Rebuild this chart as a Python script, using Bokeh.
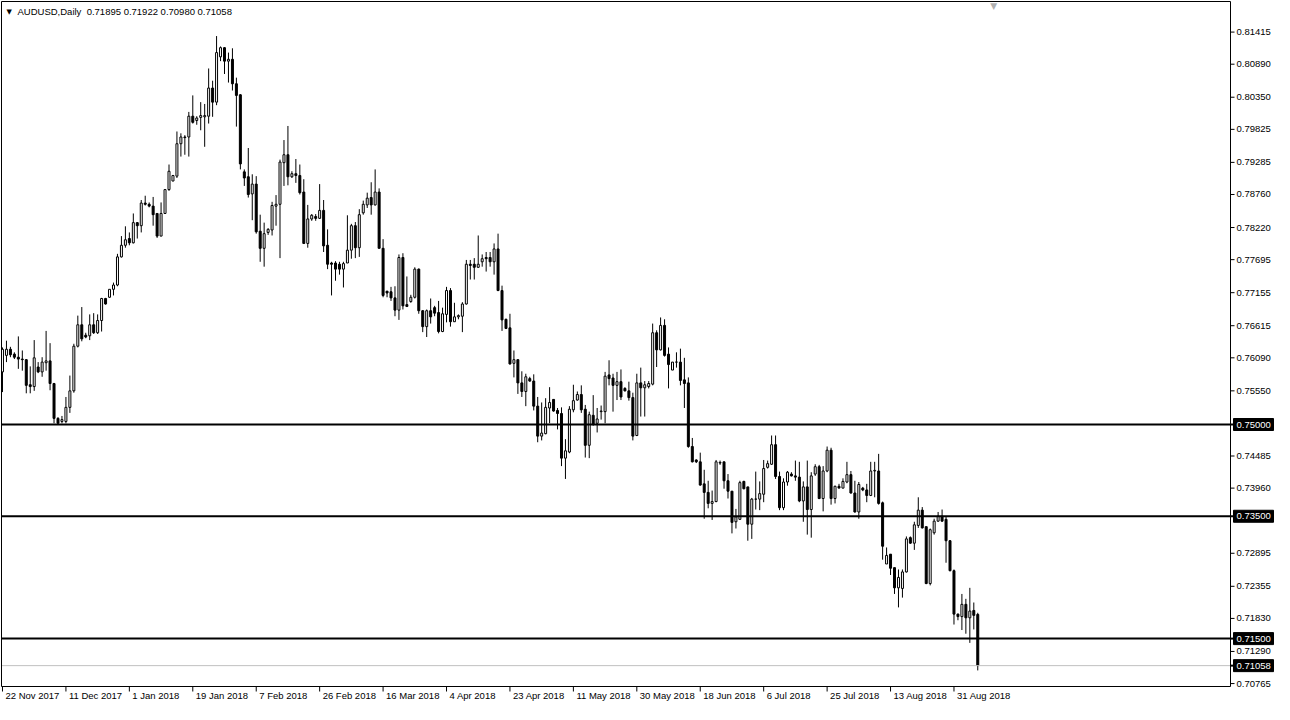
from bokeh.plotting import figure
from bokeh.models import Range1d, ColumnDataSource
from bokeh.core.properties import value
from bokeh.embed import file_html
from bokeh.resources import INLINE

# ---------------- data (AUDUSD daily, one bar per trading session) ----------------
opens = [0.7586, 0.7613, 0.7623, 0.7615, 0.7610, 0.7607, 0.7606, 0.7565, 0.7562, 0.7594,
         0.7586, 0.7601, 0.7604, 0.7567, 0.7510, 0.7505, 0.7505, 0.7528, 0.7555, 0.7628,
         0.7663, 0.7646, 0.7645, 0.7663, 0.7650, 0.7670, 0.7706, 0.7708, 0.7721, 0.7728,
         0.7774, 0.7793, 0.7804, 0.7797, 0.7830, 0.7825, 0.7862, 0.7860, 0.7857, 0.7845,
         0.7808, 0.7845, 0.7884, 0.7898, 0.7906, 0.7959, 0.7970, 0.7970, 0.8004, 0.7997,
         0.8002, 0.8003, 0.8004, 0.8050, 0.8027, 0.8101, 0.8116, 0.8094, 0.8097, 0.8057,
         0.8039, 0.7913, 0.7905, 0.7877, 0.7893, 0.7816, 0.7788, 0.7814, 0.7818, 0.7857,
         0.7860, 0.7928, 0.7941, 0.7905, 0.7910, 0.7907, 0.7880, 0.7796, 0.7836, 0.7840,
         0.7837, 0.7850, 0.7793, 0.7764, 0.7764, 0.7762, 0.7754, 0.7764, 0.7785, 0.7825,
         0.7789, 0.7846, 0.7859, 0.7871, 0.7859, 0.7880, 0.7788, 0.7718, 0.7717, 0.7707,
         0.7687, 0.7773, 0.7696, 0.7701, 0.7708, 0.7754, 0.7686, 0.7660, 0.7686, 0.7691,
         0.7683, 0.7652, 0.7680, 0.7719, 0.7668, 0.7676, 0.7677, 0.7697, 0.7762, 0.7762,
         0.7757, 0.7766, 0.7773, 0.7773, 0.7766, 0.7787, 0.7719, 0.7672, 0.7658, 0.7600,
         0.7606, 0.7568, 0.7554, 0.7575, 0.7571, 0.7530, 0.7481, 0.7485, 0.7527, 0.7541,
         0.7523, 0.7518, 0.7445, 0.7455, 0.7524, 0.7540, 0.7549, 0.7525, 0.7466, 0.7515,
         0.7502, 0.7521, 0.7521, 0.7581, 0.7576, 0.7564, 0.7570, 0.7559, 0.7555, 0.7544,
         0.7482, 0.7568, 0.7560, 0.7562, 0.7566, 0.7650, 0.7622, 0.7662, 0.7615, 0.7589,
         0.7602, 0.7602, 0.7573, 0.7568, 0.7464, 0.7442, 0.7439, 0.7403, 0.7389, 0.7371,
         0.7374, 0.7437, 0.7439, 0.7408, 0.7391, 0.7341, 0.7345, 0.7407, 0.7398, 0.7337,
         0.7378, 0.7378, 0.7386, 0.7430, 0.7435, 0.7467, 0.7415, 0.7364, 0.7406, 0.7419,
         0.7416, 0.7414, 0.7375, 0.7398, 0.7361, 0.7419, 0.7431, 0.7379, 0.7424, 0.7458,
         0.7379, 0.7399, 0.7396, 0.7406, 0.7418, 0.7388, 0.7357, 0.7396, 0.7393, 0.7384,
         0.7424, 0.7424, 0.7372, 0.7272, 0.7288, 0.7266, 0.7233, 0.7232, 0.7259, 0.7315,
         0.7306, 0.7335, 0.7360, 0.7333, 0.7240, 0.7323, 0.7342, 0.7350, 0.7345, 0.7310,
         0.7261, 0.7190, 0.7186, 0.7206, 0.7184, 0.7196, 0.71895]
highs = [0.7626, 0.7637, 0.7627, 0.7618, 0.7644, 0.7621, 0.7607, 0.7595, 0.7638, 0.7602,
         0.7610, 0.7653, 0.7633, 0.7568, 0.7512, 0.7514, 0.7545, 0.7580, 0.7632, 0.7678,
         0.7692, 0.7650, 0.7680, 0.7682, 0.7680, 0.7707, 0.7707, 0.7721, 0.7732, 0.7779,
         0.7808, 0.7824, 0.7814, 0.7845, 0.7831, 0.7867, 0.7874, 0.7863, 0.7872, 0.7845,
         0.7863, 0.7885, 0.7925, 0.7908, 0.7979, 0.7976, 0.7973, 0.8011, 0.8038, 0.8004,
         0.8027, 0.8024, 0.8082, 0.8062, 0.8135, 0.8118, 0.8117, 0.8108, 0.8115, 0.8067,
         0.8040, 0.7917, 0.7952, 0.7909, 0.7906, 0.7843, 0.7830, 0.7821, 0.7864, 0.7875,
         0.7933, 0.7965, 0.7988, 0.7914, 0.7934, 0.7925, 0.7901, 0.7859, 0.7844, 0.7844,
         0.7893, 0.7867, 0.7819, 0.7766, 0.7767, 0.7766, 0.7766, 0.7842, 0.7828, 0.7831,
         0.7852, 0.7866, 0.7879, 0.7896, 0.7917, 0.7886, 0.7803, 0.7718, 0.7725, 0.7726,
         0.7778, 0.7780, 0.7742, 0.7712, 0.7757, 0.7755, 0.7687, 0.7688, 0.7706, 0.7694,
         0.7702, 0.7691, 0.7725, 0.7723, 0.7699, 0.7680, 0.7700, 0.7769, 0.7769, 0.7772,
         0.7809, 0.7778, 0.7782, 0.7782, 0.7796, 0.7812, 0.7727, 0.7673, 0.7681, 0.7621,
         0.7606, 0.7587, 0.7583, 0.7578, 0.7582, 0.7545, 0.7536, 0.7543, 0.7561, 0.7541,
         0.7527, 0.7528, 0.7476, 0.7530, 0.7565, 0.7554, 0.7564, 0.7532, 0.7521, 0.7548,
         0.7527, 0.7531, 0.7586, 0.7605, 0.7583, 0.7586, 0.7590, 0.7561, 0.7570, 0.7552,
         0.7583, 0.7593, 0.7571, 0.7571, 0.7665, 0.7654, 0.7675, 0.7672, 0.7626, 0.7602,
         0.7618, 0.7624, 0.7609, 0.7577, 0.7478, 0.7443, 0.7454, 0.7426, 0.7408, 0.7392,
         0.7442, 0.7441, 0.7439, 0.7419, 0.7391, 0.7362, 0.7408, 0.7408, 0.7398, 0.7380,
         0.7423, 0.7407, 0.7442, 0.7441, 0.7482, 0.7482, 0.7423, 0.7412, 0.7424, 0.7422,
         0.7441, 0.7439, 0.7407, 0.7441, 0.7422, 0.7435, 0.7434, 0.7432, 0.7464, 0.7462,
         0.7400, 0.7403, 0.7412, 0.7439, 0.7424, 0.7408, 0.7406, 0.7398, 0.7403, 0.7439,
         0.7439, 0.7452, 0.7374, 0.7299, 0.7288, 0.7266, 0.7263, 0.7263, 0.7317, 0.7317,
         0.7341, 0.7381, 0.7365, 0.7333, 0.7330, 0.7346, 0.7357, 0.7361, 0.7349, 0.7311,
         0.7263, 0.7191, 0.7223, 0.7215, 0.7233, 0.7209, 0.71922]
lows = [0.7553, 0.7602, 0.7610, 0.7607, 0.7591, 0.7588, 0.7551, 0.7551, 0.7555, 0.7584,
        0.7578, 0.7588, 0.7556, 0.7502, 0.7500, 0.7502, 0.7502, 0.7519, 0.7552, 0.7626,
        0.7636, 0.7641, 0.7638, 0.7648, 0.7648, 0.7652, 0.7696, 0.7707, 0.7711, 0.7726,
        0.7773, 0.7789, 0.7793, 0.7796, 0.7804, 0.7814, 0.7858, 0.7855, 0.7825, 0.7805,
        0.7808, 0.7845, 0.7882, 0.7898, 0.7903, 0.7938, 0.7941, 0.7938, 0.7992, 0.7990,
        0.7981, 0.7954, 0.7992, 0.8003, 0.8022, 0.8094, 0.8073, 0.8059, 0.8046, 0.7987,
        0.7917, 0.7890, 0.7871, 0.7834, 0.7812, 0.7766, 0.7758, 0.7810, 0.7809, 0.7825,
        0.7772, 0.7890, 0.7891, 0.7903, 0.7895, 0.7876, 0.7795, 0.7789, 0.7833, 0.7833,
        0.7836, 0.7782, 0.7754, 0.7711, 0.7735, 0.7745, 0.7724, 0.7764, 0.7771, 0.7772,
        0.7774, 0.7843, 0.7854, 0.7843, 0.7858, 0.7788, 0.7708, 0.7708, 0.7702, 0.7677,
        0.7671, 0.7688, 0.7692, 0.7699, 0.7706, 0.7681, 0.7651, 0.7643, 0.7665, 0.7677,
        0.7649, 0.7651, 0.7667, 0.7660, 0.7668, 0.7672, 0.7651, 0.7696, 0.7737, 0.7737,
        0.7756, 0.7758, 0.7750, 0.7758, 0.7745, 0.7718, 0.7653, 0.7656, 0.7598, 0.7577,
        0.7550, 0.7545, 0.7530, 0.7570, 0.7523, 0.7471, 0.7474, 0.7484, 0.7502, 0.7521,
        0.7492, 0.7432, 0.7411, 0.7453, 0.7520, 0.7539, 0.7519, 0.7446, 0.7445, 0.7498,
        0.7487, 0.7508, 0.7502, 0.7564, 0.7521, 0.7540, 0.7540, 0.7554, 0.7539, 0.7474,
        0.7481, 0.7513, 0.7513, 0.7559, 0.7564, 0.7594, 0.7621, 0.7611, 0.7559, 0.7589,
        0.7593, 0.7564, 0.7527, 0.7462, 0.7438, 0.7437, 0.7400, 0.7346, 0.7363, 0.7344,
        0.7373, 0.7434, 0.7395, 0.7379, 0.7322, 0.7330, 0.7344, 0.7394, 0.7310, 0.7313,
        0.7361, 0.7360, 0.7373, 0.7428, 0.7434, 0.7411, 0.7360, 0.7360, 0.7400, 0.7415,
        0.7408, 0.7373, 0.7341, 0.7320, 0.7315, 0.7416, 0.7378, 0.7358, 0.7422, 0.7369,
        0.7371, 0.7396, 0.7396, 0.7404, 0.7387, 0.7356, 0.7346, 0.7391, 0.7373, 0.7383,
        0.7381, 0.7369, 0.7279, 0.7272, 0.7254, 0.7223, 0.7201, 0.7217, 0.7258, 0.7305,
        0.7295, 0.7331, 0.7330, 0.7239, 0.7237, 0.7320, 0.7341, 0.7341, 0.7274, 0.7260,
        0.7173, 0.7180, 0.7164, 0.7158, 0.7143, 0.7165, 0.70980]
closes = [0.7623, 0.7623, 0.7614, 0.7610, 0.7607, 0.7606, 0.7564, 0.7562, 0.7609, 0.7586,
          0.7602, 0.7604, 0.7567, 0.7510, 0.7502, 0.7508, 0.7528, 0.7555, 0.7628, 0.7663,
          0.7640, 0.7643, 0.7663, 0.7650, 0.7670, 0.7706, 0.7697, 0.7721, 0.7728, 0.7774,
          0.7793, 0.7802, 0.7797, 0.7830, 0.7825, 0.7862, 0.7860, 0.7857, 0.7843, 0.7808,
          0.7845, 0.7884, 0.7914, 0.7907, 0.7959, 0.7970, 0.7969, 0.8004, 0.7994, 0.8001,
          0.8005, 0.8005, 0.8050, 0.8027, 0.8108, 0.8116, 0.8094, 0.8097, 0.8057, 0.8038,
          0.7926, 0.7903, 0.7876, 0.7893, 0.7815, 0.7788, 0.7812, 0.7819, 0.7858, 0.7860,
          0.7929, 0.7941, 0.7905, 0.7910, 0.7907, 0.7879, 0.7796, 0.7836, 0.7842, 0.7837,
          0.7850, 0.7792, 0.7762, 0.7762, 0.7754, 0.7754, 0.7763, 0.7785, 0.7825, 0.7789,
          0.7843, 0.7860, 0.7870, 0.7859, 0.7880, 0.7788, 0.7711, 0.7715, 0.7707, 0.7687,
          0.7773, 0.7694, 0.7693, 0.7708, 0.7754, 0.7686, 0.7660, 0.7686, 0.7676, 0.7682,
          0.7652, 0.7681, 0.7719, 0.7668, 0.7676, 0.7678, 0.7697, 0.7762, 0.7760, 0.7757,
          0.7762, 0.7771, 0.7771, 0.7766, 0.7787, 0.7719, 0.7671, 0.7657, 0.7599, 0.7606,
          0.7568, 0.7554, 0.7578, 0.7571, 0.7530, 0.7481, 0.7486, 0.7528, 0.7536, 0.7522,
          0.7518, 0.7445, 0.7457, 0.7525, 0.7539, 0.7549, 0.7524, 0.7466, 0.7516, 0.7500,
          0.7509, 0.7522, 0.7579, 0.7575, 0.7564, 0.7570, 0.7545, 0.7555, 0.7544, 0.7481,
          0.7568, 0.7560, 0.7565, 0.7567, 0.7650, 0.7622, 0.7662, 0.7613, 0.7598, 0.7602,
          0.7602, 0.7572, 0.7567, 0.7464, 0.7439, 0.7439, 0.7401, 0.7389, 0.7371, 0.7374,
          0.7439, 0.7438, 0.7408, 0.7391, 0.7340, 0.7349, 0.7405, 0.7395, 0.7337, 0.7378,
          0.7378, 0.7387, 0.7428, 0.7436, 0.7467, 0.7415, 0.7364, 0.7406, 0.7422, 0.7416,
          0.7414, 0.7375, 0.7398, 0.7361, 0.7416, 0.7431, 0.7379, 0.7424, 0.7458, 0.7379,
          0.7399, 0.7396, 0.7407, 0.7418, 0.7388, 0.7357, 0.7402, 0.7393, 0.7384, 0.7424,
          0.7425, 0.7371, 0.7301, 0.7286, 0.7265, 0.7233, 0.7250, 0.7259, 0.7313, 0.7306,
          0.7336, 0.7360, 0.7331, 0.7240, 0.7328, 0.7342, 0.7350, 0.7342, 0.7310, 0.7261,
          0.7190, 0.7186, 0.7206, 0.7184, 0.7195, 0.7188, 0.71058]

date_labels = ["22 Nov 2017", "11 Dec 2017", "1 Jan 2018", "19 Jan 2018", "7 Feb 2018",
               "26 Feb 2018", "16 Mar 2018", "4 Apr 2018", "23 Apr 2018", "11 May 2018",
               "30 May 2018", "18 Jun 2018", "6 Jul 2018", "25 Jul 2018", "13 Aug 2018",
               "31 Aug 2018"]
date_label_bars = [0, 16, 32, 48, 64, 80, 96, 112, 128, 144, 160, 176, 192, 208, 224, 240]

price_ticks = [0.81415, 0.80890, 0.80350, 0.79825, 0.79285, 0.78760, 0.78220, 0.77695,
               0.77155, 0.76615, 0.76090, 0.75550, 0.74485, 0.73960, 0.72895,
               0.72355, 0.71830, 0.71290, 0.70765]
marked_levels = [0.75000, 0.73500, 0.71500]
last_price = 0.71058

symbol_title = "AUDUSD,Daily"
header_values = [0.71895, 0.71922, 0.70980, 0.71058]
chart_shift_bar = 250

FONT = "Liberation Sans"
FS = "9.5px"

# ---------------- geometry of the chart window ----------------
W, H = 1274, 704
FRAME_W, FRAME_H = 1229, 685           # price pane in pixels
LEFT, TOP, RIGHT, BOTTOM = 1, 1, 44, 18  # margins in pixels
x_start, x_end = -0.25, 309.75          # bar-index span of the price pane
y_start, y_end = 0.70717, 0.81915       # price span of the price pane
sx = FRAME_W / (x_end - x_start)
sy = FRAME_H / (y_end - y_start)


def dx(px):
    return px / sx


def dy(px):
    return px / sy


p = figure(width=W, height=H, output_backend="svg", toolbar_location=None,
           x_range=Range1d(x_start - dx(LEFT), x_end + dx(RIGHT)),
           y_range=Range1d(y_start - dy(BOTTOM), y_end + dy(TOP)),
           x_axis_location=None, y_axis_location=None,
           min_border=0, min_border_left=0, min_border_right=0,
           min_border_top=0, min_border_bottom=0)
p.background_fill_color = "white"
p.border_fill_color = "white"
p.outline_line_color = None
p.xgrid.visible = False
p.ygrid.visible = False

# ---------------- candles ----------------
xs = list(range(len(closes)))
bull = [c >= o for o, c in zip(opens, closes)]
src_all = ColumnDataSource(dict(x=xs, h=highs, l=lows))
src_up = ColumnDataSource(dict(
    x=[x for x, b in zip(xs, bull) if b],
    top=[c for c, b in zip(closes, bull) if b],
    bottom=[o for o, b in zip(opens, bull) if b]))
src_dn = ColumnDataSource(dict(
    x=[x for x, b in zip(xs, bull) if not b],
    top=[o for o, b in zip(opens, bull) if not b],
    bottom=[c for c, b in zip(closes, bull) if not b]))

p.segment(x0="x", y0="h", x1="x", y1="l", source=src_all, line_color="black", line_width=1)
p.vbar(x="x", width=0.5, top="top", bottom="bottom", source=src_up,
       fill_color="white", line_color="black", line_width=1)
p.vbar(x="x", width=0.5, top="top", bottom="bottom", source=src_dn,
       fill_color="black", line_color="black", line_width=1)

# ---------------- horizontal levels ----------------
p.segment(x0=[x_start] * len(marked_levels), x1=[x_end] * len(marked_levels),
          y0=marked_levels, y1=marked_levels, line_color="black", line_width=2)
p.segment(x0=[x_start], x1=[x_end], y0=[last_price], y1=[last_price],
          line_color="#c0c0c0", line_width=1)

# ---------------- pane border ----------------
p.quad(left=[x_start], right=[x_end], bottom=[y_start], top=[y_end],
       fill_color=None, line_color="black", line_width=1)

# ---------------- price scale (right) ----------------
p.segment(x0=[x_end] * len(price_ticks), x1=[x_end + dx(4)] * len(price_ticks),
          y0=price_ticks, y1=price_ticks, line_color="black", line_width=1)
p.text(x=[x_end + dx(6)] * len(price_ticks), y=price_ticks,
       text=["%.5f" % t for t in price_ticks], text_align="left", text_baseline="middle",
       text_font=value(FONT), text_font_size=value(FS), text_color="black")

box_levels = marked_levels + [last_price]
p.segment(x0=[x_end] * len(box_levels), x1=[x_end + dx(4)] * len(box_levels),
          y0=box_levels, y1=box_levels, line_color="black", line_width=2)
p.quad(left=[x_end + dx(3)] * len(box_levels), right=[x_end + dx(43)] * len(box_levels),
       bottom=[v - dy(6) for v in box_levels], top=[v + dy(6) for v in box_levels],
       fill_color="black", line_color="black")
p.text(x=[x_end + dx(6)] * len(box_levels), y=box_levels,
       text=["%.5f" % v for v in box_levels], text_align="left", text_baseline="middle",
       text_font=value(FONT), text_font_size=value(FS), text_color="white")

# ---------------- time scale (bottom) ----------------
p.segment(x0=date_label_bars, x1=date_label_bars,
          y0=[y_start] * len(date_label_bars), y1=[y_start - dy(5)] * len(date_label_bars),
          line_color="black", line_width=1)
p.text(x=[b + dx(3) for b in date_label_bars], y=[y_start - dy(3)] * len(date_label_bars),
       text=date_labels, text_align="left", text_baseline="top",
       text_font=value(FONT), text_font_size=value(FS), text_color="black")

# ---------------- header ----------------
p.text(x=[x_start + dx(5)], y=[y_end - dy(10)], text=["\u25BC"], text_align="left",
       text_baseline="middle", text_font=value("DejaVu Sans"), text_font_size=value("7px"),
       text_color="black")
header = symbol_title + "\u00a0\u00a0" + " ".join("%.5f" % v for v in header_values)
p.text(x=[x_start + dx(16)], y=[y_end - dy(10)], text=[header], text_align="left",
       text_baseline="middle", text_font=value(FONT), text_font_size=value(FS),
       text_color="black")

# chart-shift marker at the top edge
p.text(x=[chart_shift_bar], y=[y_end + dy(1)], text=["\u25BC"], text_align="center",
       text_baseline="top", text_font=value("DejaVu Sans"), text_font_size=value("9px"),
       text_color="#b0b0b0")

open("out.html", "w").write(file_html(p, INLINE))
